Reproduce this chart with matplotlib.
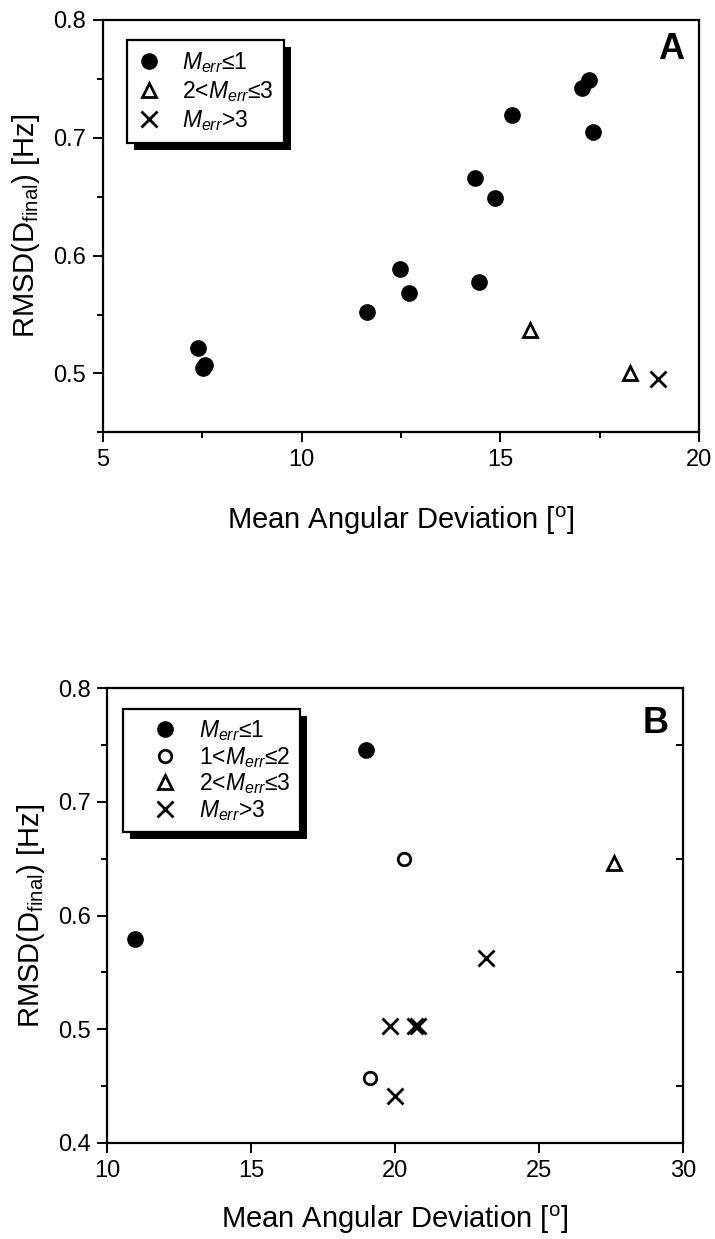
import matplotlib
matplotlib.use("Agg")
import matplotlib.pyplot as plt
import matplotlib.patheffects as pe
from matplotlib.ticker import MultipleLocator

plt.rcParams['font.family'] = ['Liberation Sans', 'DejaVu Sans']
plt.rcParams['mathtext.fontset'] = 'custom'
plt.rcParams['mathtext.rm'] = 'Liberation Sans'
plt.rcParams['mathtext.it'] = 'Liberation Sans:italic'

# panel A data
a_le1_x = [7.40, 7.52, 7.57, 11.65, 12.48, 12.70, 14.35, 14.45, 14.85, 15.28, 17.05, 17.22, 17.33]
a_le1_y = [0.522, 0.505, 0.507, 0.552, 0.589, 0.568, 0.666, 0.578, 0.649, 0.719, 0.742, 0.749, 0.705]
a_23_x = [15.75, 18.25]
a_23_y = [0.537, 0.500]
a_gt3_x = [18.95]
a_gt3_y = [0.495]

# panel B data
b_le1_x = [10.96, 19.0]
b_le1_y = [0.579, 0.746]
b_12_x = [20.3, 19.12]
b_12_y = [0.650, 0.457]
b_23_x = [27.6]
b_23_y = [0.646]
b_gt3_x = [19.81, 20.68, 20.80, 23.15, 19.99]
b_gt3_y = [0.503, 0.503, 0.503, 0.563, 0.441]

lab_le1 = r'$M_{err}$≤1'
lab_12 = r'1<$M_{err}$≤2'
lab_23 = r'2<$M_{err}$≤3'
lab_gt3 = r'$M_{err}$>3'

fig = plt.figure(figsize=(7.15, 12.39), dpi=100)
axA = fig.add_axes([0.144, 0.651, 0.834, 0.333])
axB = fig.add_axes([0.150, 0.0775, 0.805, 0.367])


def style(ax, xpad):
    for s in ax.spines.values():
        s.set_linewidth(1.6)
    ax.tick_params(which='major', direction='out', length=7, width=1.4, labelsize=17, pad=5)
    ax.tick_params(which='minor', direction='out', length=4.5, width=1.4)
    ax.set_xlabel(r'Mean Angular Deviation [$^\mathrm{o}$]', fontsize=21, labelpad=xpad)
    ax.set_ylabel(r'RMSD(D$_\mathrm{final}$) [Hz]', fontsize=21, labelpad=8)


def add_legend(ax, loc, hlen, hpad, lspace, bpad):
    leg = ax.legend(loc='upper left', bbox_to_anchor=loc, fancybox=False, framealpha=1,
                    edgecolor='black', fontsize=16.5, handletextpad=hpad, labelspacing=lspace,
                    borderpad=bpad, handlelength=hlen, borderaxespad=0)
    fr = leg.get_frame()
    fr.set_linewidth(1.6)
    fr.set_path_effects([pe.SimplePatchShadow(offset=(5, -5), shadow_rgbFace='black', alpha=1),
                         pe.Normal()])
    return leg


# panel A
axA.plot(a_le1_x, a_le1_y, 'o', color='black', ms=11, label=lab_le1)
axA.plot(a_23_x, a_23_y, '^', mfc='white', mec='black', ms=10, mew=2, label=lab_23)
axA.plot(a_gt3_x, a_gt3_y, 'x', color='black', ms=11, mew=2, label=lab_gt3)
axA.set_xlim(5, 20)
axA.set_ylim(0.45, 0.8)
axA.xaxis.set_major_locator(MultipleLocator(5))
axA.xaxis.set_minor_locator(MultipleLocator(2.5))
axA.yaxis.set_minor_locator(MultipleLocator(0.05))
axA.set_yticks([0.5, 0.6, 0.7, 0.8])
axA.set_yticklabels(['0.5', '0.6', '0.7', '0.8'])
style(axA, 24)
add_legend(axA, (0.04, 0.952), 1.0, 0.95, 0.18, 0.45)
axA.text(0.975, 0.97, 'A', transform=axA.transAxes, ha='right', va='top',
         fontsize=26, fontweight='bold')

# panel B
axB.plot(b_le1_x, b_le1_y, 'o', color='black', ms=11, label=lab_le1)
axB.plot(b_12_x, b_12_y, 'o', mfc='white', mec='black', ms=9, mew=2, label=lab_12)
axB.plot(b_23_x, b_23_y, '^', mfc='white', mec='black', ms=10, mew=2, label=lab_23)
axB.plot(b_gt3_x, b_gt3_y, 'x', color='black', ms=11, mew=2, label=lab_gt3)
axB.set_xlim(10, 30)
axB.set_ylim(0.4, 0.8)
axB.xaxis.set_major_locator(MultipleLocator(5))
axB.yaxis.set_major_locator(MultipleLocator(0.1))
axB.yaxis.set_minor_locator(MultipleLocator(0.05))
style(axB, 16)
add_legend(axB, (0.028, 0.955), 2.8, 0.1, 0.08, 0.4)
axB.text(0.975, 0.96, 'B', transform=axB.transAxes, ha='right', va='top',
         fontsize=26, fontweight='bold')

# inward minor ticks on the right spine of panel B
axR = axB.twinx()
axR.set_ylim(axB.get_ylim())
axR.yaxis.set_major_locator(MultipleLocator(0.1))
axR.yaxis.set_minor_locator(MultipleLocator(0.05))
axR.tick_params(which='major', length=0, labelright=False)
axR.tick_params(which='minor', direction='in', length=5, width=1.4)
for s in axR.spines.values():
    s.set_visible(False)

fig.savefig('out.png', dpi=100)
